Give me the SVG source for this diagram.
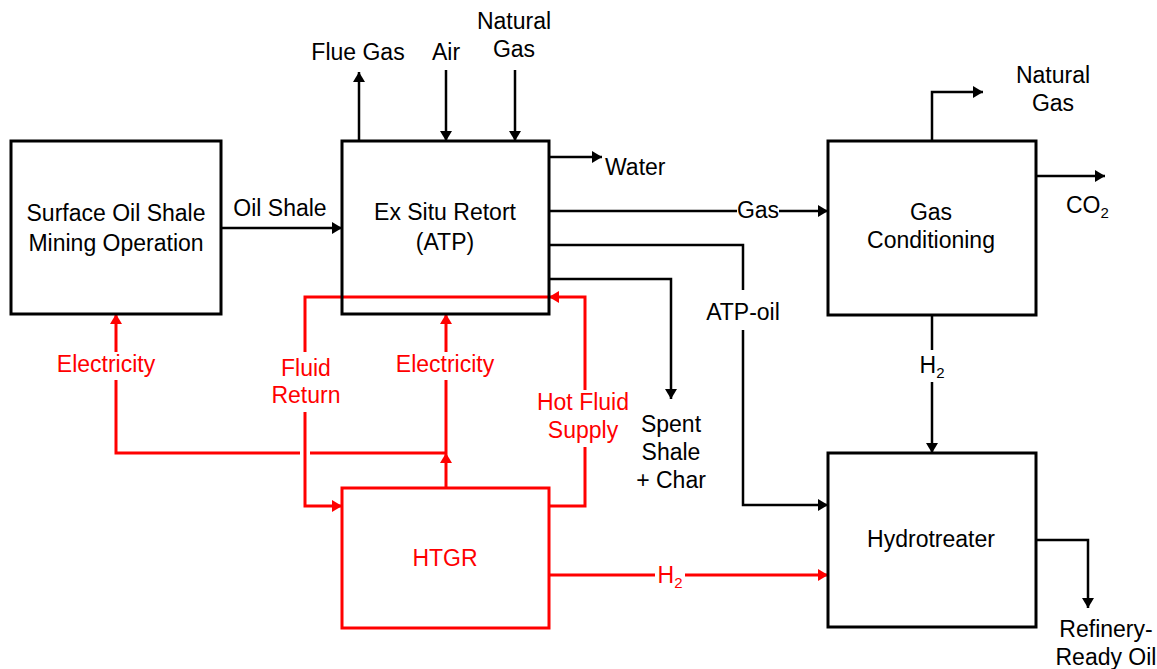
<svg xmlns="http://www.w3.org/2000/svg" width="1157" height="669" viewBox="0 0 1157 669">
<defs>
<style>
.box{fill:none;stroke:#000;stroke-width:3}
.rbox{fill:none;stroke:#ff0000;stroke-width:3}
.ln{fill:none;stroke:#000;stroke-width:2.5}
.rl{fill:none;stroke:#ff0000;stroke-width:3}
text{font-family:"Liberation Sans",Arial,sans-serif;font-size:23px;fill:#000;text-anchor:middle}
.r{fill:#ff0000}
.s{text-anchor:start}
.sub{font-size:15px}
</style>
<marker id="ab" markerUnits="userSpaceOnUse" markerWidth="10" markerHeight="12" refX="10" refY="6" orient="auto" viewBox="0 0 10 12"><path d="M0,0 L10,6 L0,12 z" fill="#000"/></marker>
<marker id="ar" markerUnits="userSpaceOnUse" markerWidth="10" markerHeight="12" refX="10" refY="6" orient="auto" viewBox="0 0 10 12"><path d="M0,0 L10,6 L0,12 z" fill="#ff0000"/></marker>
</defs>
<rect width="1157" height="669" fill="#fff"/>

<g id="connectors">
<path class="ln" d="M221,228 H342" marker-end="url(#ab)"/>
<path class="ln" d="M359,141 V72" marker-end="url(#ab)"/>
<path class="ln" d="M446,70 V141" marker-end="url(#ab)"/>
<path class="ln" d="M515,70 V141" marker-end="url(#ab)"/>
<path class="ln" d="M549,157 H602" marker-end="url(#ab)"/>
<path class="ln" d="M549,211 H737"/>
<path class="ln" d="M779,211 H828" marker-end="url(#ab)"/>
<path class="ln" d="M549,245 H743 V290"/>
<path class="ln" d="M743,330 V505 H828" marker-end="url(#ab)"/>
<path class="ln" d="M549,279 H671 V399" marker-end="url(#ab)"/>
<path class="ln" d="M932,141 V92 H983" marker-end="url(#ab)"/>
<path class="ln" d="M1036,176 H1105" marker-end="url(#ab)"/>
<path class="ln" d="M932,315 V350"/>
<path class="ln" d="M932,382 V453" marker-end="url(#ab)"/>
<path class="ln" d="M1036,540 H1088 V608" marker-end="url(#ab)"/>

<path class="rl" d="M446,453 H310"/>
<path class="rl" d="M300,453 H116 V380"/>
<path class="rl" d="M116,352 V314" marker-end="url(#ar)"/>
<path class="rl" d="M446,488 V453" marker-end="url(#ar)"/>
<path class="rl" d="M446,453 V380"/>
<path class="rl" d="M446,352 V314" marker-end="url(#ar)"/>
<path class="rl" d="M549,506 H585 V447"/>
<path class="rl" d="M585,390 V297 H549" marker-end="url(#ar)"/>
<path class="rl" d="M549,297 H305 V352"/>
<path class="rl" d="M305,412 V506 H342" marker-end="url(#ar)"/>
<path class="rl" d="M549,575 H655"/>
<path class="rl" d="M685,575 H828" marker-end="url(#ar)"/>

<text x="280" y="216">Oil Shale</text>
<text x="358" y="60">Flue Gas</text>
<text x="446" y="60">Air</text>
<text x="514" y="29">Natural</text>
<text x="514" y="57">Gas</text>
<text class="s" x="605" y="175">Water</text>
<text x="758" y="218">Gas</text>
<text x="743" y="320">ATP-oil</text>
<text x="671" y="432">Spent</text>
<text x="671" y="460">Shale</text>
<text x="671" y="488">+ Char</text>
<text x="1053" y="83">Natural</text>
<text x="1053" y="111">Gas</text>
<text class="s" x="1066" y="213">CO<tspan class="sub" dy="5">2</tspan></text>
<text x="932" y="373">H<tspan class="sub" dy="5">2</tspan></text>
<text x="1106" y="637">Refinery-</text>
<text x="1106" y="665">Ready Oil</text>
<text class="r" x="106" y="372">Electricity</text>
<text class="r" x="445" y="372">Electricity</text>
<text class="r" x="306" y="376">Fluid</text>
<text class="r" x="306" y="403">Return</text>
<text class="r" x="583" y="410">Hot Fluid</text>
<text class="r" x="583" y="438">Supply</text>
<text class="r" x="670" y="583">H<tspan class="sub" dy="5">2</tspan></text>
</g>

<g id="surface">
<rect class="box" x="11" y="141" width="210" height="173"/>
<text x="116" y="221">Surface Oil Shale</text>
<text x="116" y="251">Mining Operation</text>
</g>
<g id="retort">
<rect class="box" x="342" y="141" width="207" height="173"/>
<text x="445" y="220">Ex Situ Retort</text>
<text x="445" y="250">(ATP)</text>
</g>
<g id="gascond">
<rect class="box" x="828" y="141" width="208" height="174"/>
<text x="931" y="220">Gas</text>
<text x="931" y="248">Conditioning</text>
</g>
<g id="hydrotreater">
<rect class="box" x="828" y="453" width="208" height="174"/>
<text x="931" y="547">Hydrotreater</text>
</g>
<g id="htgr">
<rect class="rbox" x="342" y="488" width="207" height="140"/>
<text class="r" x="445" y="566">HTGR</text>
</g>
</svg>
